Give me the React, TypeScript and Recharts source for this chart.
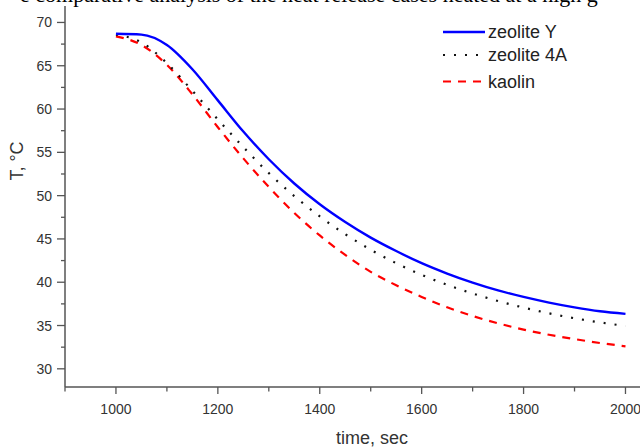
import React from 'react';
import { LineChart, Line, XAxis, YAxis } from 'recharts';

const times = [1000, 1050, 1100, 1150, 1200, 1250, 1300, 1350, 1400, 1450, 1500, 1550, 1600, 1650, 1700, 1750, 1800, 1850, 1900, 1950, 2000];
const zeoliteY = [68.7, 68.6, 67.4, 64.6, 61.0, 57.4, 54.2, 51.4, 49.0, 46.95, 45.15, 43.6, 42.2, 41.0, 39.95, 39.05, 38.3, 37.65, 37.1, 36.65, 36.35];
const zeolite4A = [68.6, 67.7, 65.3, 62.1, 58.8, 55.6, 52.6, 49.95, 47.6, 45.55, 43.75, 42.2, 40.85, 39.7, 38.7, 37.83, 37.07, 36.41, 35.84, 35.36, 34.95];
const kaolin = [68.4, 67.4, 65.1, 61.7, 57.9, 54.3, 51.0, 48.0, 45.4, 43.15, 41.2, 39.65, 38.3, 37.1, 36.1, 35.25, 34.53, 33.93, 33.43, 32.98, 32.6];

const seriesNames = ['zeolite Y', 'zeolite 4A', 'kaolin'];
const xTicks = [900, 1000, 1100, 1200, 1300, 1400, 1500, 1600, 1700, 1800, 1900, 2000];
const yTicks = [30, 32.5, 35, 37.5, 40, 42.5, 45, 47.5, 50, 52.5, 55, 57.5, 60, 62.5, 65, 67.5, 70];
const xLabel = 'time, sec';
const yLabel = 'T, °C';
const topText = 'e comparative analysis of the heat release cases heated at a high g';

const data = times.map((t, i) => ({ t, zy: zeoliteY[i], z4: zeolite4A[i], ka: kaolin[i] }));

const FONT = '"Liberation Sans", Arial, sans-serif';
const AXIS = '#555';
const TXT = '#333';

const YTick = (props: any) => {
  const { x, y, payload } = props;
  const v = payload.value;
  const major = Math.abs(v % 5) < 1e-6;
  const x2 = x + 8 + 5;
  return (
    <g>
      <line x1={x2 - (major ? 8 : 4)} x2={x2} y1={y} y2={y} stroke={AXIS} strokeWidth={1.3} />
      {major && (
        <text x={x} y={y} dy={5} textAnchor="end" fontFamily={FONT} fontSize={14} fill={TXT}>
          {v}
        </text>
      )}
    </g>
  );
};

const XTick = (props: any) => {
  const { x, y, payload } = props;
  const v = payload.value;
  const major = v >= 1000 && (v - 1000) % 200 === 0;
  const y0 = y - 7 - 4;
  return (
    <g>
      <line x1={x} x2={x} y1={y0} y2={y0 + (major ? 7 : 4.5)} stroke={AXIS} strokeWidth={1.3} />
      {major && (
        <text x={x} y={y0 + 27} textAnchor="middle" fontFamily={FONT} fontSize={14} fill={TXT}>
          {v}
        </text>
      )}
    </g>
  );
};

const legendStyles = [
  { stroke: '#0000ff', dash: undefined as string | undefined, w: 2.4 },
  { stroke: '#111', dash: '2 9', w: 2.2 },
  { stroke: '#ff0000', dash: '8 7', w: 2.2 },
];

export default function App() {
  return (
    <div style={{ position: 'absolute', left: 0, top: 0, width: 640, height: 447, overflow: 'hidden', background: '#fff' }}>
      <LineChart width={640} height={447} data={data} margin={{ top: 6, right: 0, bottom: 0, left: 0 }}>
        <XAxis
          dataKey="t"
          type="number"
          domain={[900, 2028.5]}
          ticks={xTicks}
          interval={0}
          tickSize={7}
          tickMargin={4}
          tickLine={false}
          tick={<XTick />}
          height={60}
          axisLine={{ stroke: AXIS, strokeWidth: 1.5 }}
          allowDataOverflow
        />
        <YAxis
          type="number"
          domain={[27.9, 71.9]}
          ticks={yTicks}
          interval={0}
          tickSize={8}
          tickMargin={5}
          tickLine={false}
          tick={<YTick />}
          width={65}
          axisLine={{ stroke: AXIS, strokeWidth: 1.5 }}
          allowDataOverflow
        />
        <Line dataKey="ka" name={seriesNames[2]} type="monotone" stroke="#ff0000" strokeWidth={2.2} strokeDasharray="8 7" dot={false} isAnimationActive={false} />
        <Line dataKey="z4" name={seriesNames[1]} type="monotone" stroke="#111" strokeWidth={2.2} strokeDasharray="2 9" dot={false} isAnimationActive={false} />
        <Line dataKey="zy" name={seriesNames[0]} type="monotone" stroke="#0000ff" strokeWidth={2.4} dot={false} isAnimationActive={false} />
      </LineChart>
      <svg width={640} height={447} style={{ position: 'absolute', left: 0, top: 0, pointerEvents: 'none' }}>
        <text x={20} y={2} fontFamily='"Liberation Serif", serif' fontSize={22} fill="#000">{topText}</text>
        <text x={372} y={444} textAnchor="middle" fontFamily={FONT} fontSize={18} fill={TXT}>{xLabel}</text>
        <text transform="translate(23,161) rotate(-90)" textAnchor="middle" fontFamily={FONT} fontSize={18} fill={TXT}>{yLabel}</text>
        {seriesNames.map((n, i) => {
          const cy = [32, 55, 81.5][i];
          const s = legendStyles[i];
          return (
            <g key={n}>
              <line x1={443} x2={485} y1={cy} y2={cy} stroke={s.stroke} strokeWidth={s.w} strokeDasharray={s.dash} />
              <text x={488} y={cy + 6} fontFamily={FONT} fontSize={18} fill="#222">{n}</text>
            </g>
          );
        })}
      </svg>
    </div>
  );
}
